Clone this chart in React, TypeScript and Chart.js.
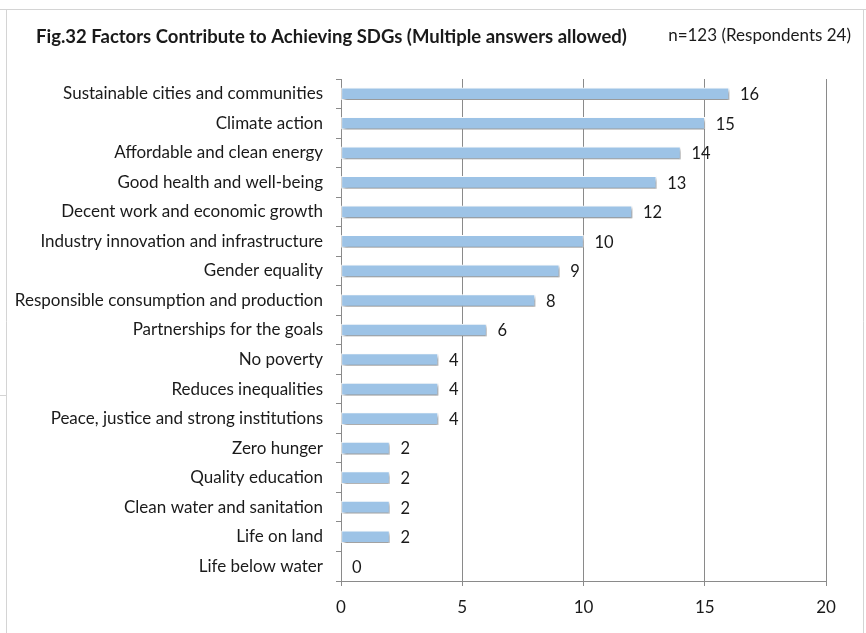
import React, { useEffect, useRef } from "react";
import { Chart, registerables } from "chart.js";

Chart.register(...registerables);

const categories = [
  "Sustainable cities and communities",
  "Climate action",
  "Affordable and clean energy",
  "Good health and well-being",
  "Decent work and economic growth",
  "Industry innovation and infrastructure",
  "Gender equality",
  "Responsible consumption and production",
  "Partnerships for the goals",
  "No poverty",
  "Reduces inequalities",
  "Peace, justice and strong institutions",
  "Zero hunger",
  "Quality education",
  "Clean water and sanitation",
  "Life on land",
  "Life below water",
];

const counts = [16, 15, 14, 13, 12, 10, 9, 8, 6, 4, 4, 4, 2, 2, 2, 2, 0];

const xTicks = [0, 5, 10, 15, 20];

const titleText = "Fig.32 Factors Contribute to Achieving SDGs (Multiple answers allowed)";
const noteText = "n=123 (Respondents 24)";

const FONT = "Lato, 'Open Sans', sans-serif";
const GRID = "#8a8a8a";
const TEXT = "#1a1a1a";

// Frame around the figure plus the header line.
const framePlugin = {
  id: "frame",
  beforeDraw(chart: any) {
    const ctx = chart.ctx;
    ctx.save();
    ctx.fillStyle = "#ffffff";
    ctx.fillRect(0, 0, chart.width, chart.height);
    ctx.strokeStyle = "#d4d4d4";
    ctx.lineWidth = 1;
    ctx.beginPath();
    ctx.moveTo(0, 9.5);
    ctx.lineTo(chart.width, 9.5);
    ctx.moveTo(6.5, 9.5);
    ctx.lineTo(6.5, chart.height);
    ctx.moveTo(863.5, 9.5);
    ctx.lineTo(863.5, chart.height);
    ctx.moveTo(0, 395.5);
    ctx.lineTo(6, 395.5);
    ctx.stroke();

    ctx.fillStyle = TEXT;
    ctx.textBaseline = "middle";
    ctx.textAlign = "left";
    ctx.font = `bold 18.5px ${FONT}`;
    ctx.fillText(titleText, 36, 37);
    ctx.font = `17px ${FONT}`;
    ctx.textAlign = "right";
    ctx.fillText(noteText, 851, 36);
    ctx.restore();
  },
};

// Soft drop shadow under the bars, then value labels at each bar end.
const barDecorPlugin = {
  id: "barDecor",
  beforeDatasetsDraw(chart: any) {
    const ctx = chart.ctx;
    ctx.save();
    ctx.shadowColor = "rgba(0,0,0,0.45)";
    ctx.shadowOffsetX = 1.5;
    ctx.shadowOffsetY = 2.5;
    ctx.shadowBlur = 3;
  },
  afterDatasetsDraw(chart: any) {
    const ctx = chart.ctx;
    ctx.restore();
    const meta = chart.getDatasetMeta(0);
    const data = chart.data.datasets[0].data as number[];
    ctx.save();
    ctx.fillStyle = TEXT;
    ctx.font = `16.5px ${FONT}`;
    ctx.textAlign = "left";
    ctx.textBaseline = "middle";
    meta.data.forEach((bar: any, i: number) => {
      ctx.fillText(String(data[i]), bar.x + 11, bar.y + 1);
    });
    ctx.restore();
  },
};

export default function App() {
  const canvasRef = useRef<HTMLCanvasElement | null>(null);

  useEffect(() => {
    document.body.style.margin = "0";
    const canvas = canvasRef.current;
    if (!canvas) return;
    const chart = new Chart(canvas, {
      type: "bar",
      data: {
        labels: categories,
        datasets: [
          {
            data: counts,
            backgroundColor: "#9dc3e6",
            borderColor: "#ffffff",
            borderWidth: 1,
            barThickness: 12,
            borderSkipped: false,
          },
        ],
      },
      options: {
        indexAxis: "y",
        animation: false,
        responsive: false,
        devicePixelRatio: 1,
        layout: { padding: { top: 79, right: 40, left: 0, bottom: 0 } },
        plugins: {
          legend: { display: false },
          tooltip: { enabled: false },
          title: { display: false },
        },
        scales: {
          x: {
            type: "linear",
            min: 0,
            max: 20,
            afterBuildTicks(scale: any) {
              scale.ticks = xTicks.map((v) => ({ value: v }));
            },
            afterFit(scale: any) {
              scale.height = 52;
            },
            grid: {
              color: GRID,
              lineWidth: 1,
              tickLength: 5,
              drawTicks: true,
            },
            border: { color: GRID, width: 1 },
            ticks: {
              padding: 11,
              color: TEXT,
              font: { family: FONT, size: 17 },
            },
          },
          y: {
            type: "category",
            afterFit(scale: any) {
              scale.width = 341;
            },
            grid: {
              display: true,
              drawOnChartArea: false,
              color: GRID,
              tickLength: 5,
              offset: true,
            },
            border: { color: GRID, width: 1 },
            ticks: {
              padding: 13,
              color: TEXT,
              font: { family: FONT, size: 17 },
              autoSkip: false,
            },
          },
        },
      },
      plugins: [framePlugin, barDecorPlugin],
    });
    return () => chart.destroy();
  }, []);

  return (
    <div style={{ width: 866, height: 633 }}>
      <canvas ref={canvasRef} width={866} height={633} style={{ display: "block" }} />
    </div>
  );
}
